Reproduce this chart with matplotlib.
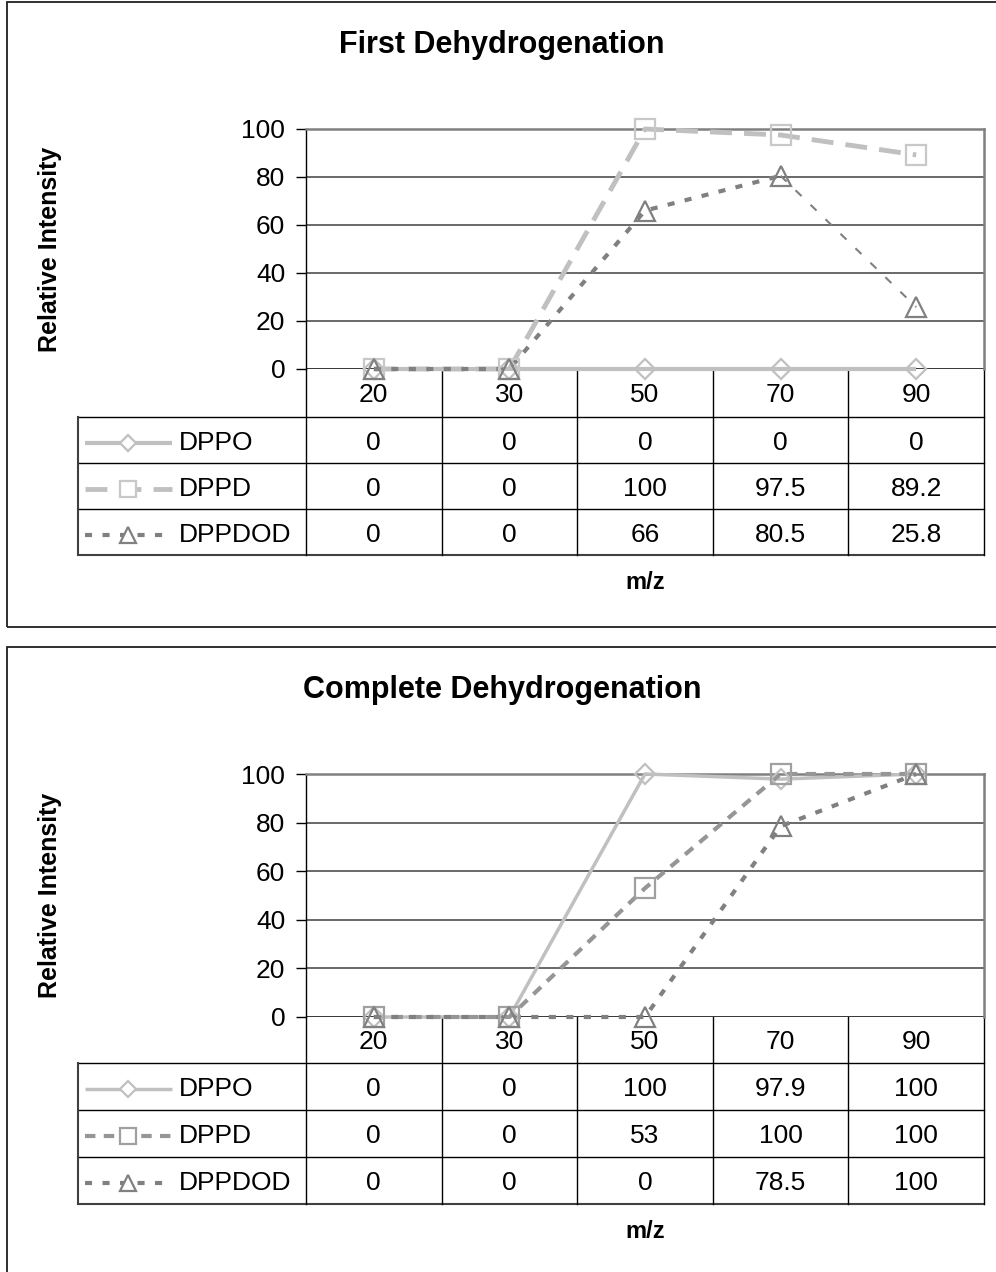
import matplotlib
matplotlib.use('Agg')
import matplotlib.pyplot as plt
from matplotlib.patches import Rectangle

plt.rcParams['font.family'] = ['Liberation Sans', 'DejaVu Sans']

# Data
mz_labels = ['20', '30', '50', '70', '90']
series_names = ['DPPO', 'DPPD', 'DPPDOD']

first_dppo = [0, 0, 0, 0, 0]
first_dppd = [0, 0, 100, 97.5, 89.2]
first_dppdod = [0, 0, 66, 80.5, 25.8]

complete_dppo = [0, 0, 100, 97.9, 100]
complete_dppd = [0, 0, 53, 100, 100]
complete_dppdod = [0, 0, 0, 78.5, 100]

yticks = [0, 20, 40, 60, 80, 100]

W, H = 996, 1272
fig = plt.figure(figsize=(W / 100, H / 100), dpi=100)

FS = 19  # tick / table text size


def rect(x0, y0, x1, y1):
    return [x0 / W, 1 - y1 / H, (x1 - x0) / W, (y1 - y0) / H]


# styles per panel
styles_first = [
    dict(color='#C0C0C0', lw=3.0, dashes=None, marker='D', ms=10, mc='#C0C0C0'),
    dict(color='#C0C0C0', lw=3.5, dashes=(4.5, 2.5), marker='s', ms=14, mc='#C8C8C8'),
    dict(color='#808080', lw=3.0, dashes=(1.7, 2.5), marker='^', ms=14, mc='#808080'),
]
styles_complete = [
    dict(color='#C0C0C0', lw=2.5, dashes=None, marker='D', ms=10, mc='#C0C0C0'),
    dict(color='#969696', lw=3.0, dashes=(2.5, 2.0), marker='s', ms=14, mc='#A0A0A0'),
    dict(color='#808080', lw=3.0, dashes=(1.7, 2.5), marker='^', ms=14, mc='#808080'),
]


def draw_panel(title, data, styles, top, bottom, y100, y0, row_lines, thin_tail=False):
    # outer border
    fig.patches.append(Rectangle((7 / W, 1 - bottom / H), 1.2, (bottom - top) / H,
                                 transform=fig.transFigure, fill=False,
                                 edgecolor='#202020', lw=1.3))

    x_left, x_right = 306, 984
    col_w = (x_right - x_left) / len(mz_labels)
    leg_left = 78

    # plot area
    ax = fig.add_axes(rect(x_left, y100, x_right, y0))
    ax.set_xlim(-0.5, len(mz_labels) - 0.5)
    ax.set_ylim(0, 100)
    for s in ['top', 'right']:
        ax.spines[s].set_color('#808080')
        ax.spines[s].set_linewidth(1.8)
    ax.spines['left'].set_color('black')
    ax.spines['left'].set_linewidth(1.0)
    ax.spines['bottom'].set_visible(False)
    ax.set_yticks(yticks)
    ax.set_yticklabels([str(v) for v in yticks], fontsize=FS)
    ax.tick_params(axis='y', length=7, width=1, direction='out', pad=8)
    ax.set_xticks([])
    for v in yticks:
        ax.axhline(v, color='#404040' if v else 'black', lw=1.1, zorder=1)

    xs = list(range(len(mz_labels)))
    for vals, st in zip(data, styles):
        kw = dict(color=st['color'], lw=st['lw'], solid_capstyle='butt',
                  dash_capstyle='butt', zorder=3, clip_on=False)
        if thin_tail and st['marker'] == '^':
            ln = ax.plot(xs[:4], vals[:4], **kw)[0]
            ln.set_dashes(st['dashes'])
            ln2 = ax.plot(xs[3:], vals[3:], color=st['color'], lw=1.5,
                          zorder=3, clip_on=False)[0]
            ln2.set_dashes((4, 6))
        else:
            ln = ax.plot(xs, vals, **kw)[0]
            if st['dashes']:
                ln.set_dashes(st['dashes'])
        ax.plot(xs, vals, ls='none', marker=st['marker'], ms=st['ms'],
                mfc='none', mec=st['mc'], mew=1.6, zorder=4, clip_on=False)

    ax.set_ylabel('Relative Intensity', fontsize=18, fontweight='bold')
    ax.yaxis.set_label_coords(-(x_left - 62) / (x_right - x_left), 0.5)

    # table
    tb = fig.add_axes(rect(leg_left, y0, x_right, row_lines[-1]))
    tb.set_zorder(-1)
    xmin = -0.5 - (x_left - leg_left) / col_w
    ncol = len(mz_labels)
    tb.set_xlim(xmin, ncol - 0.5)
    tb.set_ylim(row_lines[-1], y0)
    tb.axis('off')
    tb.patch.set_alpha(0)

    # horizontal lines
    for yl in row_lines[:-1]:
        tb.plot([xmin, ncol - 0.5], [yl, yl], color='black', lw=1.0, clip_on=False)
    tb.plot([xmin, ncol - 0.5], [row_lines[-1]] * 2, color='#404040', lw=1.5,
            clip_on=False)
    # vertical lines
    for k in range(ncol + 1):
        tb.plot([k - 0.5, k - 0.5], [y0, row_lines[-1]], color='black', lw=1.0,
                clip_on=False)
    tb.plot([xmin, xmin], [row_lines[0], row_lines[-1]], color='#404040', lw=1.5,
            clip_on=False)

    # header labels
    for i, lab in enumerate(mz_labels):
        tb.text(i, (y0 + row_lines[0]) / 2 + 2, lab, ha='center', va='center',
                fontsize=FS)
    # rows
    px = (ncol - 0.5 - xmin) / (x_right - leg_left)  # data units per pixel
    for r, (name, vals, st) in enumerate(zip(series_names, data, styles)):
        yc = (row_lines[r] + row_lines[r + 1]) / 2 + 3
        for i, v in enumerate(vals):
            tb.text(i, yc, '%g' % v, ha='center', va='center', fontsize=FS)
        tb.text(xmin + (179 - leg_left) * px, yc, name, ha='left', va='center',
                fontsize=FS)
        lx0 = xmin + (85 - leg_left) * px
        lx1 = xmin + (172 - leg_left) * px
        lxm = xmin + (128 - leg_left) * px
        ln = tb.plot([lx0, lx1], [yc, yc], color=st['color'], lw=st['lw'],
                     solid_capstyle='butt', dash_capstyle='butt', clip_on=False)[0]
        if st['dashes']:
            ln.set_dashes(st['dashes'])
        tb.plot([lxm], [yc], ls='none', marker=st['marker'], ms=st['ms'] * 0.85,
                mfc='white', mec=st['mc'], mew=1.6, clip_on=False)

    # x label and title
    fig.text(645 / W, 1 - (row_lines[-1] + 28) / H, 'm/z', ha='center', va='center',
             fontsize=17, fontweight='bold')
    fig.text(502 / W, 1 - (top + 43) / H, title, ha='center', va='center',
             fontsize=22, fontweight='bold')


draw_panel('First Dehydrogenation',
           [first_dppo, first_dppd, first_dppdod], styles_first,
           top=2, bottom=627, y100=129, y0=369, row_lines=[417, 463, 509, 555],
           thin_tail=True)
draw_panel('Complete Dehydrogenation',
           [complete_dppo, complete_dppd, complete_dppdod], styles_complete,
           top=647, bottom=1290, y100=774, y0=1017, row_lines=[1063, 1110, 1157, 1204])

fig.savefig('out.png', dpi=100)
